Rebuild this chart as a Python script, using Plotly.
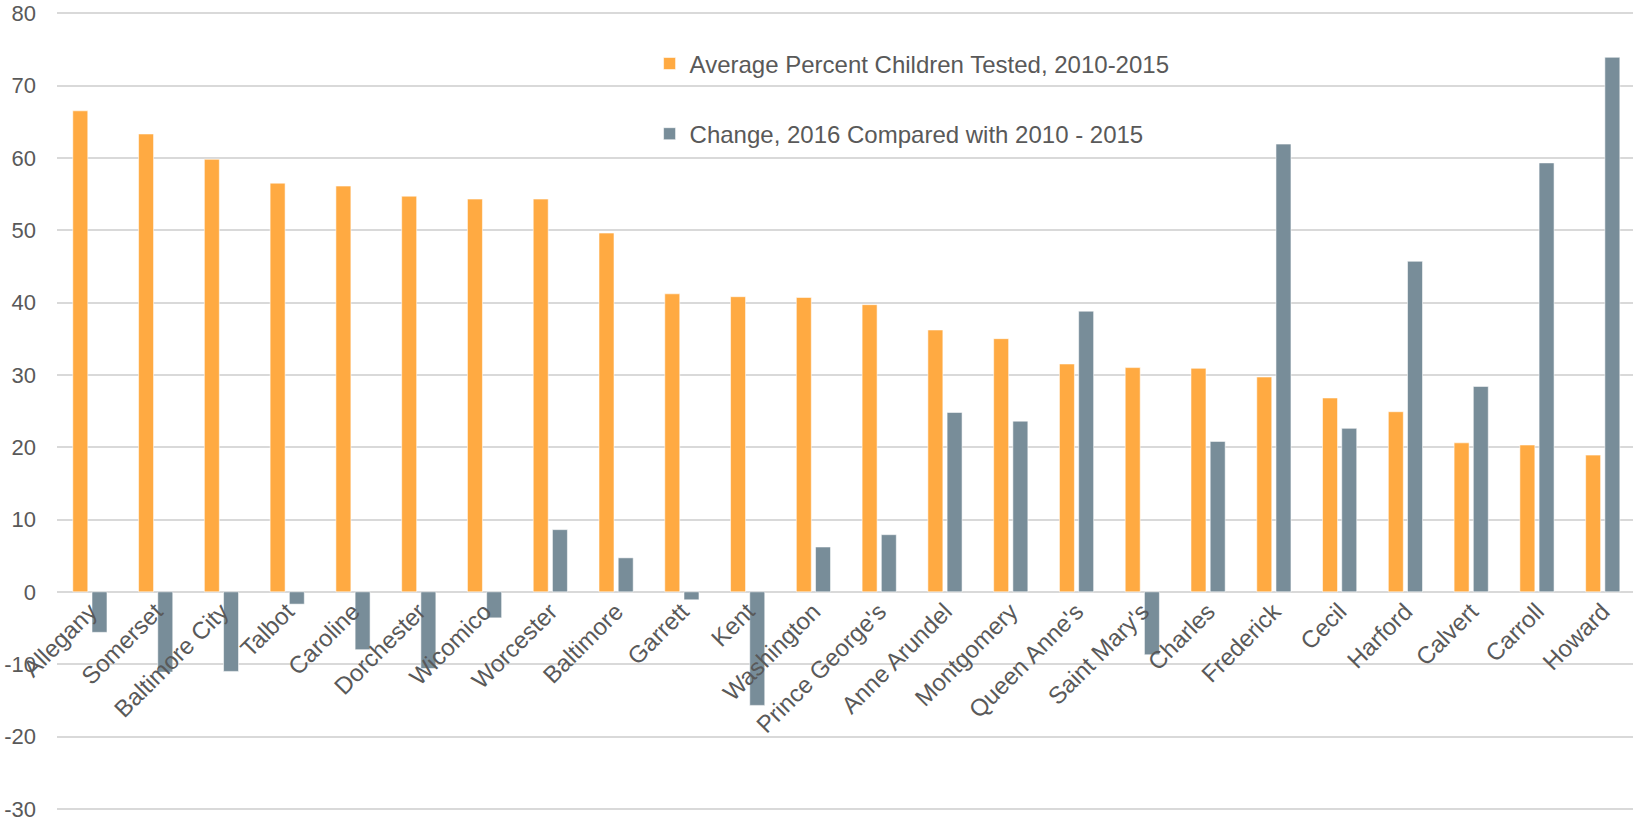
import plotly.graph_objects as go

counties = ["Allegany", "Somerset", "Baltimore City", "Talbot", "Caroline", "Dorchester",
            "Wicomico", "Worcester", "Baltimore", "Garrett", "Kent", "Washington",
            "Prince George's", "Anne Arundel", "Montgomery", "Queen Anne's", "Saint Mary's",
            "Charles", "Frederick", "Cecil", "Harford", "Calvert", "Carroll", "Howard"]
avg_tested = [66.5, 63.3, 59.8, 56.5, 56.1, 54.7, 54.3, 54.3, 49.6, 41.2, 40.8, 40.7,
              39.7, 36.2, 35.0, 31.5, 31.0, 30.9, 29.7, 26.8, 24.9, 20.6, 20.3, 18.9]
change_2016 = [-5.6, -11.1, -11.0, -1.7, -8.0, -10.6, -3.6, 8.6, 4.7, -1.1, -15.7, 6.2,
               7.9, 24.8, 23.6, 38.8, -8.7, 20.8, 61.9, 22.6, 45.7, 28.4, 59.3, 73.9]
y_ticks = [-30, -20, -10, 0, 10, 20, 30, 40, 50, 60, 70, 80]
y_tick_labels = ["-30", "-20", "-10", "0", "10", "20", "30", "40", "50", "60", "70", "80"]

ORANGE = "#FFAA42"
GRAY = "#788D99"
TXT = "#595959"
GRID = "#D9D9D9"
FONT = "Liberation Sans, Arial, sans-serif"

fig = go.Figure()
fig.add_trace(go.Bar(x=counties, y=avg_tested, name="Average Percent Children Tested, 2010-2015",
                     marker=dict(color=ORANGE, line=dict(color="rgba(255,255,255,0.55)", width=1)),
                     legendgroup="a"))
fig.add_trace(go.Bar(x=counties, y=change_2016, name="Change, 2016 Compared with 2010 - 2015",
                     marker=dict(color=GRAY, line=dict(color="rgba(255,255,255,0.55)", width=1)),
                     legendgroup="b"))

W, H = 1633, 822
y_lo, y_hi = -30.3, 80.3
fig.update_layout(
    width=W, height=H,
    margin=dict(l=57, r=0, t=11, b=11),
    paper_bgcolor="white", plot_bgcolor="white",
    barmode="group", bargap=0.416, bargroupgap=0.22,
    font=dict(family=FONT, color=TXT, size=24),
    showlegend=True,
    legend=dict(x=0.376, y=0.962, xanchor="left", yanchor="top",
                bgcolor="rgba(0,0,0,0)", font=dict(size=24, color=TXT),
                tracegroupgap=36, itemwidth=30),
    xaxis=dict(type="category", range=[-0.5, len(counties) - 0.54],
               tickangle=-45, tickfont=dict(size=24, color=TXT),
               showgrid=False, showline=False, ticks="",
               anchor="free", position=(0 - y_lo) / (y_hi - y_lo), layer="above traces",
               automargin=False),
    yaxis=dict(range=[y_lo, y_hi], tickmode="array", tickvals=y_ticks, ticktext=y_tick_labels,
               showgrid=True, gridcolor=GRID, gridwidth=2,
               zeroline=True, zerolinecolor=GRID, zerolinewidth=2,
               tickfont=dict(size=22, color=TXT), ticks="", ticklabelstandoff=20,
               ticklabeloverflow="allow",
               showline=False, automargin=False),
)

fig.write_html("out.html", config={"displayModeBar": False},
               post_script="document.body.style.margin='0px';document.body.style.overflow='hidden';")
